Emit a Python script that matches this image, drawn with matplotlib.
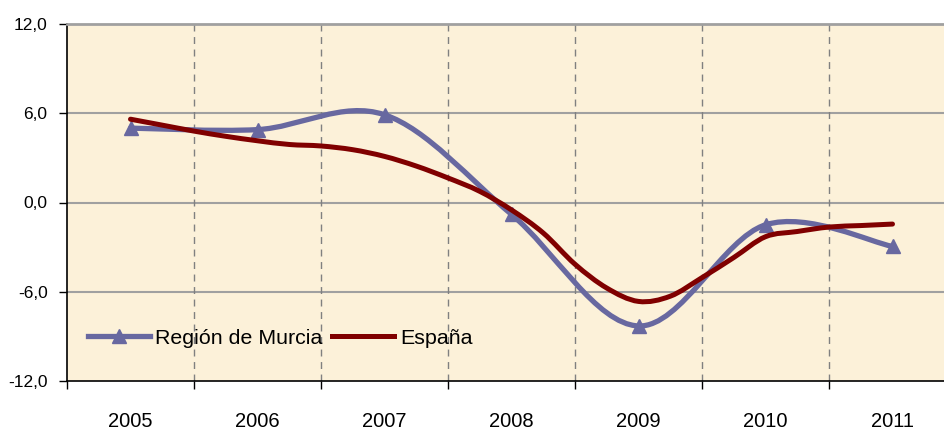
import numpy as np
import matplotlib
matplotlib.use("Agg")
import matplotlib.pyplot as plt
from matplotlib.path import Path
from matplotlib.patches import PathPatch
from matplotlib.lines import Line2D

# ================= DATOS =================
years = ['2005', '2006', '2007', '2008', '2009', '2010', '2011']
murcia = [5.0, 4.9, 5.9, -0.8, -8.3, -1.5, -2.95]
# España: datos trimestrales, desde 2005 hasta 2011
espana = [5.6, 5.2, 4.8, 4.45, 4.15, 3.9, 3.8, 3.55, 3.1,
          2.45, 1.65, 0.75, -0.5, -2.05, -4.15, -5.75, -6.65,
          -6.3, -5.05, -3.7, -2.3, -1.95, -1.65, -1.55, -1.45]
yticks = [12, 6, 0, -6, -12]
ytick_labels = ['12,0', '6,0', '0,0', '-6,0', '-12,0']

COL_MURCIA = '#6868A0'
COL_ESP = '#800000'
FONT = ['Liberation Sans', 'DejaVu Sans']


def smooth_path(x, y):
    # curva suavizada tipo Excel (Catmull-Rom -> Bezier)
    n = len(x)
    verts = [(x[0], y[0])]
    codes = [Path.MOVETO]
    for i in range(n - 1):
        i0 = i - 1 if i > 0 else i
        i3 = i + 2 if i + 2 < n else i + 1
        c1 = (x[i] + (x[i + 1] - x[i0]) / 6, y[i] + (y[i + 1] - y[i0]) / 6)
        c2 = (x[i + 1] - (x[i3] - x[i]) / 6, y[i + 1] - (y[i3] - y[i]) / 6)
        verts += [c1, c2, (x[i + 1], y[i + 1])]
        codes += [Path.CURVE4] * 3
    return Path(verts, codes)


x_murcia = np.arange(len(murcia)) + 0.5
x_esp = 0.5 + np.arange(len(espana)) / 4

fig = plt.figure(figsize=(9.44, 4.32), dpi=100)
ax = fig.add_axes([67 / 944, 51 / 432, 889 / 944, 357 / 432])
ax.set_facecolor('#FCF1D9')

ax.set_xlim(0, 7)
ax.set_ylim(-12, 12)

# rejilla
for v in [6, 0, -6]:
    ax.axhline(v, color='#A0A0A0', lw=1.5, zorder=1)
for b in range(1, 7):
    ax.axvline(b, color='#808080', lw=1, ls=(0, (5, 4)), zorder=1)

# series
ax.add_patch(PathPatch(smooth_path(x_murcia, murcia), fill=False, edgecolor=COL_MURCIA,
                       lw=3.8, capstyle='round', joinstyle='round', zorder=3))
ax.plot(x_murcia, murcia, ls='none', marker='^', ms=10, color=COL_MURCIA, zorder=4)
ax.add_patch(PathPatch(smooth_path(x_esp, espana), fill=False, edgecolor=COL_ESP,
                       lw=3.6, capstyle='round', joinstyle='round', zorder=5))

# ejes
ax.spines['top'].set_color('#A0A0A0')
ax.spines['top'].set_linewidth(2)
ax.spines['right'].set_visible(False)
ax.spines['left'].set_linewidth(1.2)
ax.spines['bottom'].set_linewidth(1.2)

ax.set_yticks(yticks)
ax.set_yticklabels(ytick_labels, fontfamily=FONT, fontsize=12.5)
ax.tick_params(axis='y', length=6, width=1, pad=8)

ax.set_xticks(range(0, 8))
ax.set_xticklabels([])
ax.tick_params(axis='x', which='major', length=6, width=1)
ax.set_xticks(x_murcia, minor=True)
ax.set_xticklabels(years, minor=True, fontfamily=FONT, fontsize=14.5)
ax.tick_params(axis='x', which='minor', length=0, pad=22)

handles = [Line2D([], [], color=COL_MURCIA, lw=3.8, marker='^', ms=10),
           Line2D([], [], color=COL_ESP, lw=3.6)]
ax.legend(handles, ['Región de Murcia', 'España'], ncol=2, frameon=False,
          loc='center left', bbox_to_anchor=(21 / 889, 43 / 357),
          prop={'family': FONT, 'size': 15.4}, handlelength=2.9,
          handletextpad=0.25, columnspacing=0.45, borderpad=0, borderaxespad=0,
          numpoints=1)

fig.savefig('out.png', dpi=100)
